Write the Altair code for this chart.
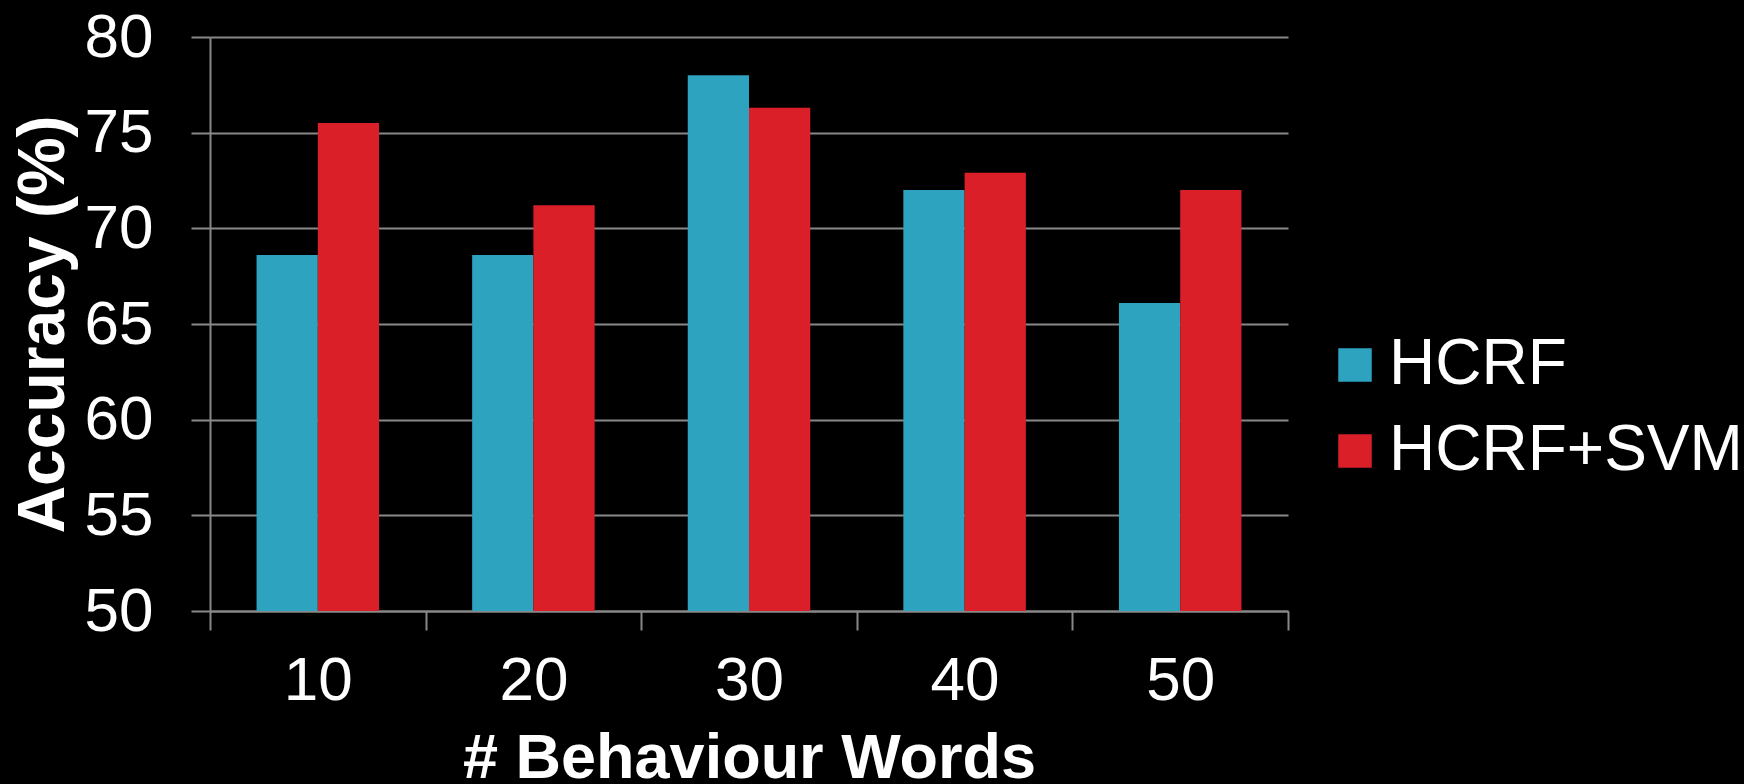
import altair as alt
import pandas as pd

categories = ["10", "20", "30", "40", "50"]
series = ["HCRF", "HCRF+SVM"]
hcrf = [68.6, 68.6, 78.0, 72.0, 66.1]
hcrf_svm = [75.5, 71.2, 76.3, 72.9, 72.0]
y_ticks = [50, 55, 60, 65, 70, 75, 80]
colors = ["#2DA3C0", "#DA1F29"]

rows = []
for c, a, b in zip(categories, hcrf, hcrf_svm):
    rows.append({"words": c, "method": series[0], "acc": a})
    rows.append({"words": c, "method": series[1], "acc": b})
df = pd.DataFrame(rows)

FONT = "Liberation Sans"
GRAY = "#888888"

chart = alt.Chart(df).mark_bar().encode(
    x=alt.X(
        "words:N",
        sort=categories,
        scale=alt.Scale(paddingInner=0, paddingOuter=0),
        axis=alt.Axis(
            title="# Behaviour Words",
            labelAngle=0,
            tickBand="extent",
            grid=False,
            tickSize=19,
            tickWidth=2,
            tickColor=GRAY,
            domainColor=GRAY,
            domainWidth=2,
            labelFont=FONT,
            labelFontSize=62,
            labelColor="white",
            labelBaseline="alphabetic",
            labelPadding=69,
            labelOverlap=False,
            titleFont=FONT,
            titleFontSize=63,
            titleFontWeight="bold",
            titleColor="white",
            titleBaseline="alphabetic",
            titleX=539,
            titleY=166,
        ),
    ),
    xOffset=alt.XOffset(
        "method:N", sort=series, scale=alt.Scale(paddingInner=0, paddingOuter=0.76)
    ),
    y=alt.Y(
        "acc:Q",
        scale=alt.Scale(domain=[50, 80], zero=False, nice=False),
        axis=alt.Axis(
            title="Accuracy (%)",
            values=y_ticks,
            grid=True,
            gridColor=GRAY,
            gridWidth=2,
            tickSize=19,
            tickWidth=2,
            tickColor=GRAY,
            domainColor=GRAY,
            domainWidth=2,
            labelFont=FONT,
            labelFontSize=62,
            labelColor="white",
            labelPadding=38,
            titleFont=FONT,
            titleFontSize=66,
            titleFontWeight="bold",
            titleColor="white",
            titleBaseline="alphabetic",
            titleAngle=270,
            titleX=-147,
            titleY=287,
        ),
    ),
    y2=alt.datum(50),
    color=alt.Color(
        "method:N",
        sort=series,
        scale=alt.Scale(domain=series, range=colors),
        legend=alt.Legend(
            title=None,
            orient="none",
            legendX=1113,
            legendY=296,
            symbolType="square",
            symbolSize=1120,
            symbolStrokeWidth=0,
            labelFont=FONT,
            labelFontSize=64,
            labelColor="white",
            labelOffset=2,
            labelLimit=1000,
            rowPadding=22,
            padding=0,
        ),
    ),
).properties(
    width=1078,
    height=574,
    background="black",
    padding={"left": 210, "top": 37, "right": 456, "bottom": 173},
    autosize=alt.AutoSizeParams(type="none"),
).configure_view(stroke=None)

chart.save("out.html", embed_options={"renderer": "svg", "actions": False})
